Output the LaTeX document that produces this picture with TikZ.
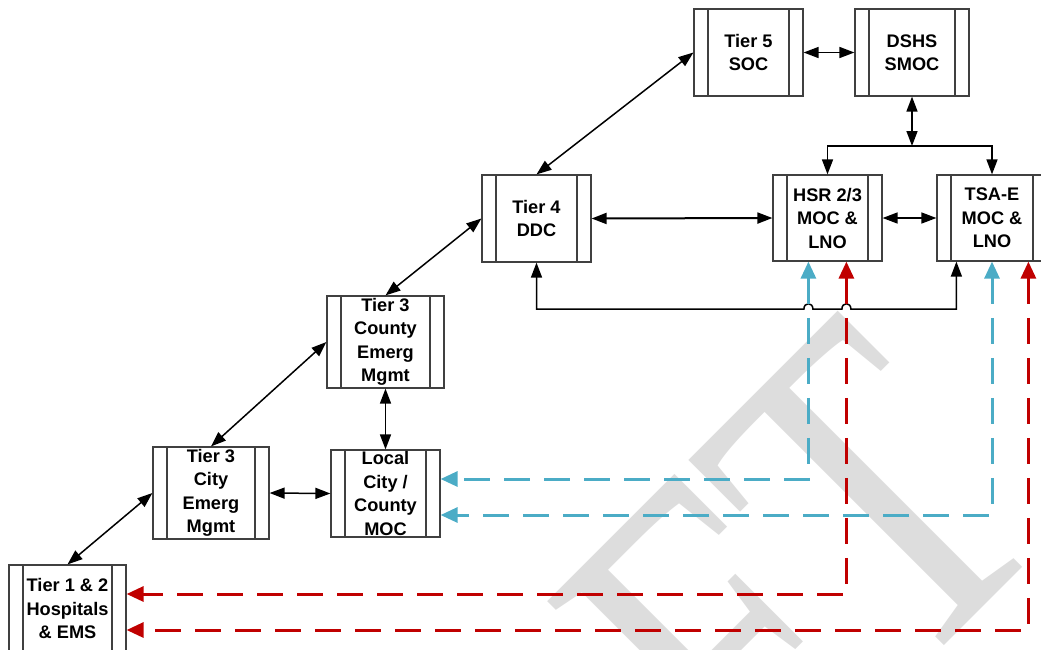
\documentclass[tikz,border=0pt]{standalone}
\usepackage{fontspec}
\setmainfont{Liberation Sans}
\newfontfamily\wmfont{Liberation Serif}
\usetikzlibrary{arrows.meta,calc}
\definecolor{dblue}{HTML}{4BACC6}
\definecolor{dred}{HTML}{C00000}
\definecolor{wmgray}{HTML}{DDDDDD}
\begin{document}
\begin{tikzpicture}[x=1pt,y=-1pt,
  pbox/.style={draw=black!75, line width=1.2pt, fill=white, align=center, inner sep=0pt,
    font=\bfseries\fontsize{18.2}{23.5}\selectfont,
    path picture={\draw[black!75,line width=1.2pt]
      ([xshift=14pt]path picture bounding box.north west) -- ([xshift=14pt]path picture bounding box.south west)
      ([xshift=-14pt]path picture bounding box.north east) -- ([xshift=-14pt]path picture bounding box.south east);}},
  conn/.style={draw=black, line width=1.5pt, {Triangle[length=15pt,width=11pt]}-{Triangle[length=15pt,width=11pt]}},
  conn1/.style={draw=black, line width=1.5pt, -{Triangle[length=15pt,width=11pt]}},
  bline/.style={draw=black, line width=2pt},
  bdash/.style={draw=dblue, line width=3pt, dash pattern=on 26pt off 14pt,
    {Triangle[length=17pt,width=15pt]}-{Triangle[length=17pt,width=15pt]}},
  rdash/.style={draw=dred, line width=3pt, dash pattern=on 26pt off 14pt,
    {Triangle[length=17pt,width=15pt]}-{Triangle[length=17pt,width=15pt]}}]
\useasboundingbox (0,0) rectangle (1041,649);
% watermark
\begin{scope}
\clip (0,0) rectangle (1041,649);
\node[rotate=45, xscale=0.77, anchor=base east, text=wmgray, inner sep=0pt,
  font=\wmfont\fontsize{476}{476}\selectfont] (wm) at (1063.5,526.5) {DRAFT};
\end{scope}
% boxes
\node[pbox, minimum width=109pt, minimum height=87pt] (soc)  at (748.5,52.5) {Tier 5\\SOC};
\node[pbox, minimum width=114pt, minimum height=87pt] (dshs) at (912,52.5) {DSHS\\SMOC};
\node[pbox, minimum width=109pt, minimum height=87pt] (ddc)  at (536.5,218.5) {Tier 4\\DDC};
\node[pbox, minimum width=109pt, minimum height=86pt] (hsr)  at (827.5,218) {HSR 2/3\\MOC \&\\LNO};
\node[pbox, minimum width=110pt, minimum height=86pt] (tsa)  at (992,218) {TSA-E\\MOC \&\\LNO};
\node[pbox, minimum width=117pt, minimum height=92pt] (cty)  at (385.5,342) {Tier 3\\County\\Emerg\\Mgmt};
\node[pbox, minimum width=109pt, minimum height=87pt] (loc)  at (385.5,493.5) {Local\\City /\\County\\MOC};
\node[pbox, minimum width=116pt, minimum height=92pt] (city) at (211,493) {Tier 3\\City\\Emerg\\Mgmt};
\node[pbox, minimum width=117pt, minimum height=87pt] (hosp) at (67.5,608.5) {Tier 1 \& 2\\Hospitals\\\& EMS};
% helper coordinates
\coordinate (busy) at (0,146);
\coordinate (loopy) at (0,309);
\coordinate (bus) at (dshs.south |- busy);
\coordinate (hb) at ([xshift=36pt]hsr.south west);
\coordinate (hr) at ([xshift=74pt]hsr.south west);
\coordinate (tb) at (tsa.south);
\coordinate (tr) at ([xshift=92pt]tsa.south west);
\coordinate (tk) at ([xshift=20pt]tsa.south west);
% black connectors
\draw[conn] (soc.west) -- (ddc.north);
\draw[conn] (soc.east) -- (dshs.west);
\draw[conn] (dshs.south) -- (bus);
\draw[bline] (hsr.north |- busy) -- (tsa.north |- busy);
\draw[conn1] (bus) -| (hsr.north);
\draw[conn1] (bus) -| (tsa.north);
\draw[conn, line width=2pt] (ddc.east) -- (hsr.west);
\draw[conn] (hsr.east) -- (tsa.west);
\draw[conn] (ddc.west) -- (cty.north);
\draw[conn] (cty.west) -- (city.north);
\draw[conn] (city.west) -- (hosp.north);
\draw[conn] (cty.south) -- (loc.north);
\draw[conn] (city.east) -- (loc.west);
\draw[conn] (ddc.south) -- (ddc.south |- loopy)
  -- ($(hb |- loopy)+(-4.5,0)$) .. controls ($(hb |- loopy)+(-4.5,-7)$) and ($(hb |- loopy)+(4.5,-7)$) .. ($(hb |- loopy)+(4.5,0)$)
  -- ($(hr |- loopy)+(-4.5,0)$) .. controls ($(hr |- loopy)+(-4.5,-7)$) and ($(hr |- loopy)+(4.5,-7)$) .. ($(hr |- loopy)+(4.5,0)$)
  -- (tk |- loopy) -- (tk);
% dashed connectors
\draw[bdash] (hb) |- ([yshift=14.5pt]loc.east);
\draw[bdash] (tb) |- ([yshift=-21.5pt]loc.east);
\draw[rdash] (hr) |- ([yshift=14.5pt]hosp.east);
\draw[rdash] (tr) |- ([yshift=-21.5pt]hosp.east);
\end{tikzpicture}
\end{document}
